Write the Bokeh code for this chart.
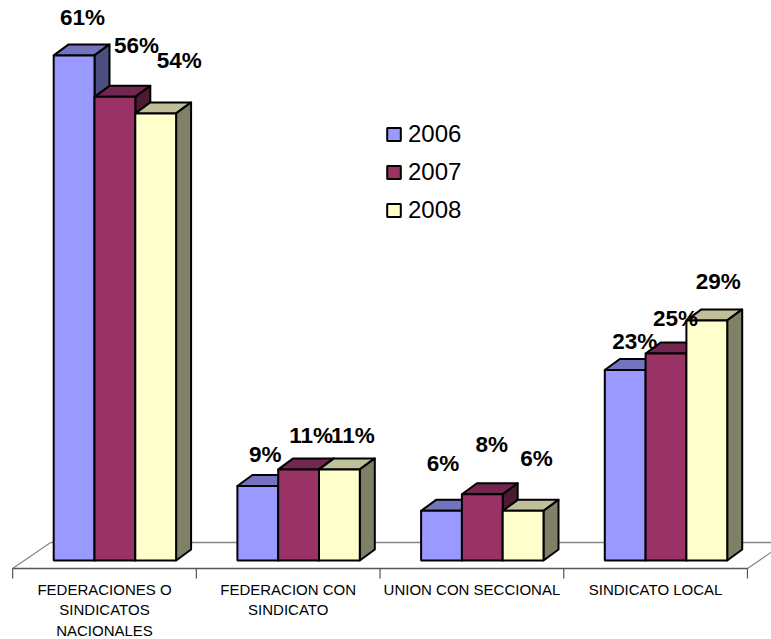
from bokeh.core.properties import value
from bokeh.embed import file_html
from bokeh.models import ColumnDataSource, Legend, LegendItem
from bokeh.plotting import figure
from bokeh.resources import INLINE

categories = ["FEDERACIONES O\nSINDICATOS\nNACIONALES", "FEDERACION CON\nSINDICATO",
              "UNION CON SECCIONAL", "SINDICATO LOCAL"]
years = ["2006", "2007", "2008"]
v2006 = [61, 9, 6, 23]
v2007 = [56, 11, 8, 25]
v2008 = [54, 11, 6, 29]
series = [v2006, v2007, v2008]

front_colors = ["#9999FF", "#993366", "#FFFFCC"]
top_colors = ["#7373BF", "#732650", "#BFBF99"]
side_colors = ["#4D4D80", "#4D1A33", "#808066"]

# Canvas layout, in pixels
W, H = 771, 639
PX_PER_CAT = 183.7
PX_PER_PCT = 8.28
ORIGIN_X = 104.0     # centre of the first category
BASE_Y = 560.0       # where 0% sits
BAR_W = 40.8 / PX_PER_CAT
BAR_SHIFT = 10.4 / PX_PER_CAT    # bars sit back from the front edge of the floor
DEPTH_X = 15.0 / PX_PER_CAT
DEPTH_Y = 11.0 / PX_PER_PCT

# Data label placement relative to the top centre of each bar, in pixels
label_dx = [[8.5, 7.5, 1.5, 9.5], [21.5, 12.5, 9.5, 9.5], [23.5, 13.5, 13.5, 11.5]]
label_dy = [[38, 31, 47, 29], [51, 34, 50, 35], [53, 34, 52, 39]]

FONT = "Liberation Sans"

p = figure(
    width=W, height=H, output_backend="svg", toolbar_location=None,
    x_range=(-ORIGIN_X / PX_PER_CAT, (W - ORIGIN_X) / PX_PER_CAT),
    y_range=((BASE_Y - H) / PX_PER_PCT, BASE_Y / PX_PER_PCT),
    x_axis_type=None, y_axis_type=None, min_border=0,
    outline_line_color=None, background_fill_color="white",
)
p.grid.visible = False

# Floor of the 3D plot
n = len(categories)
fl = -0.5
fr = n - 0.5
front_y = -8.0 / PX_PER_PCT
back_y = 18.0 / PX_PER_PCT
floor_dx = 38.0 / PX_PER_CAT
p.segment([fl + floor_dx], [back_y], [fr + floor_dx + 0.2], [back_y], line_color="#868686", line_width=1.5)
p.segment([fl, fr], [front_y, front_y], [fl + floor_dx, fr + floor_dx],
          [back_y, back_y], line_color="#868686", line_width=1.2)
p.segment([fl], [front_y], [fr], [front_y], line_color="#555555", line_width=1.5)
ticks = [fl + i for i in range(n + 1)]
p.segment(ticks, [front_y] * (n + 1), ticks, [front_y - 10.0 / PX_PER_PCT] * (n + 1),
          line_color="#555555", line_width=1.2)

# Bars: one front, top and side face per value, drawn series by series so that
# the later series hide the side faces of the earlier ones
legend_items = []
for s, vals in enumerate(series):
    for g, v in enumerate(vals):
        x0 = g - 1.5 * BAR_W + BAR_SHIFT + s * BAR_W
        x1 = x0 + BAR_W
        p.patch([x0, x1, x1 + DEPTH_X, x0 + DEPTH_X], [v, v, v + DEPTH_Y, v + DEPTH_Y],
                fill_color=top_colors[s], line_color="black", line_width=2, line_join="round")
        p.patch([x1, x1 + DEPTH_X, x1 + DEPTH_X, x1], [0, DEPTH_Y, v + DEPTH_Y, v],
                fill_color=side_colors[s], line_color="black", line_width=2, line_join="round")
    src = ColumnDataSource(dict(
        left=[g - 1.5 * BAR_W + BAR_SHIFT + s * BAR_W for g in range(n)],
        right=[g - 0.5 * BAR_W + BAR_SHIFT + s * BAR_W for g in range(n)],
        top=vals, bottom=[0] * n))
    r = p.quad(left="left", right="right", top="top", bottom="bottom", source=src,
               fill_color=front_colors[s], line_color="black", line_width=2)
    legend_items.append(LegendItem(label=years[s], renderers=[r]))

# Value labels
for s, vals in enumerate(series):
    src = ColumnDataSource(dict(
        x=[g - BAR_W + BAR_SHIFT + s * BAR_W + label_dx[s][g] / PX_PER_CAT for g in range(n)],
        y=[v + label_dy[s][g] / PX_PER_PCT for g, v in enumerate(vals)],
        t=[f"{v}%" for v in vals]))
    p.text(x="x", y="y", text="t", source=src, text_align="center", text_baseline="middle",
           text_font=value(FONT), text_font_style="bold", text_font_size="22.5px", text_color="black")

# Category labels under the floor
lx, ly, lt = [], [], []
for g, c in enumerate(categories):
    for i, line in enumerate(c.split("\n")):
        lx.append(g)
        ly.append((BASE_Y - 589 - 20.3 * i) / PX_PER_PCT)
        lt.append(line)
p.text(x=lx, y=ly, text=lt, text_align="center", text_baseline="middle",
       text_font=value(FONT), text_font_size="15px", text_color="black")

legend = Legend(
    items=legend_items, location=(385, H - 224), orientation="vertical",
    background_fill_alpha=0, border_line_color=None,
    glyph_width=17, glyph_height=16, label_height=22, spacing=10, padding=4,
    margin=0, label_standoff=6,
    label_text_font=FONT, label_text_font_size="24px", label_text_color="black",
)
p.add_layout(legend, "center")

open("out.html", "w").write(file_html(p, INLINE))
